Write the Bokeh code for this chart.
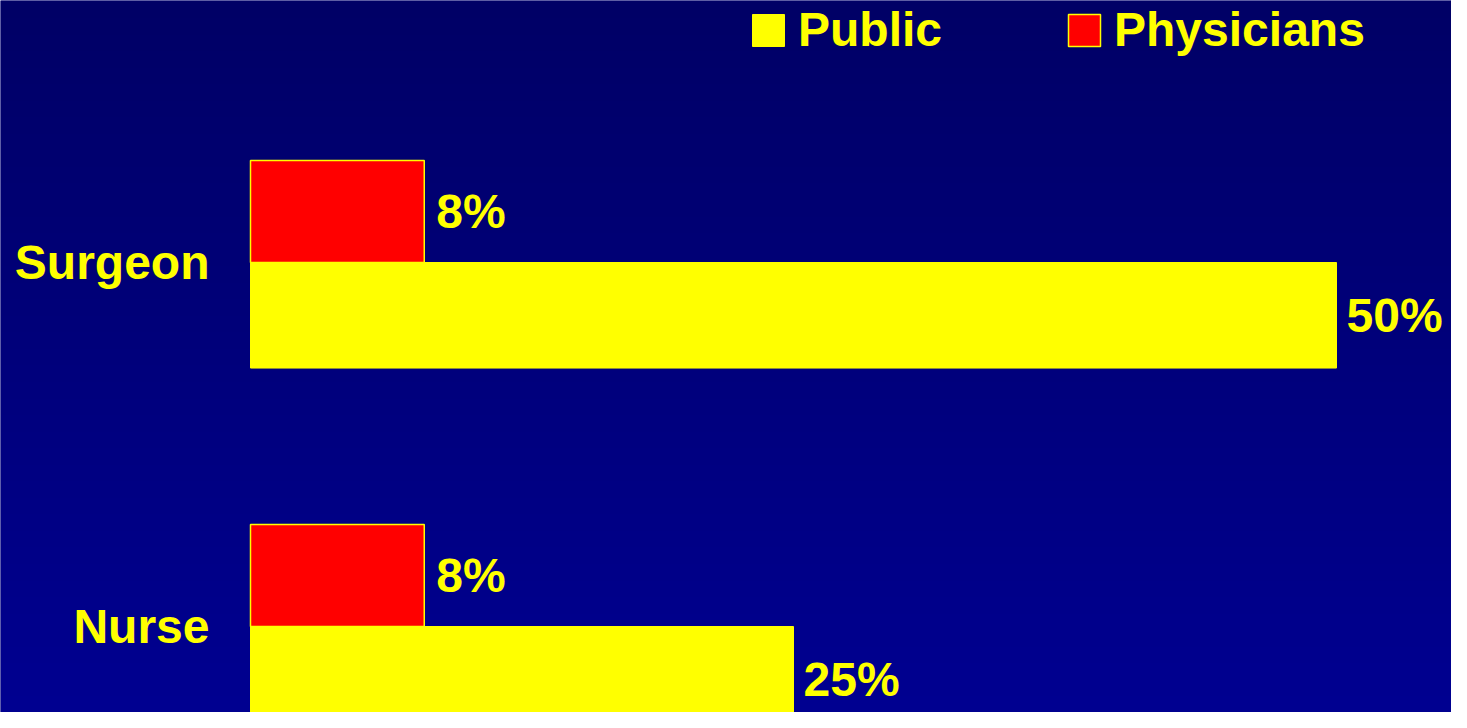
import numpy as np
from bokeh.plotting import figure
from bokeh.models import Range1d, Legend, LegendItem, ColumnDataSource
from bokeh.core.properties import value
from bokeh.embed import file_html
from bokeh.resources import INLINE

# ---- data ----
categories = ["Surgeon", "Nurse"]
public = [50, 25]
physicians = [8, 8]
series_names = ["Public", "Physicians"]

YELLOW = "#FFFF00"
RED = "#FF0000"
FONT = "Liberation Sans"

W, H = 1451, 712
px_per_pct = 21.72
bar_left_px = 250
group_px = 364.0
first_center_px = 262.0

x_start = -bar_left_px / px_per_pct
x_end = (W - bar_left_px) / px_per_pct
n = len(categories)
ypos = [n - 1 - i for i in range(n)]
y_end = (n - 1) + first_center_px / group_px
y_start = y_end - H / group_px

p = figure(width=W, height=H, output_backend="svg", toolbar_location=None,
           x_range=Range1d(x_start, x_end), y_range=Range1d(y_start, y_end),
           x_axis_type=None, y_axis_type=None, min_border=0,
           outline_line_color=None, border_fill_color="#000066",
           background_fill_color="#000077")
p.grid.visible = False

# vertical gradient background
rows = H
img = np.empty((rows, 2), dtype=np.uint32)
view = img.view(dtype=np.uint8).reshape((rows, 2, 4))
page_y = (rows - 1 - np.arange(rows))  # row 0 is bottom
blue = (102 + (146 - 102) * page_y / 728.0).astype(np.uint8)
view[:, :, 0] = 0
view[:, :, 1] = 0
view[:, :, 2] = blue[:, None]
view[:, :, 3] = 255
p.image_rgba(image=[img], x=x_start, y=y_start, dw=x_end - x_start, dh=y_end - y_start)

h_phys = 0.28
h_pub = 0.29
src = ColumnDataSource(dict(
    cat=categories,
    y=ypos,
    public=public,
    physicians=physicians,
    y_phys=[y + h_phys / 2 for y in ypos],
    y_pub=[y - h_pub / 2 for y in ypos],
    zero=[0] * n,
    pub_lbl=[f"{v}%" for v in public],
    phys_lbl=[f"{v}%" for v in physicians],
))

r_pub = p.hbar(y="y_pub", left=0, right="public", height=h_pub, source=src,
               fill_color=YELLOW, line_color=YELLOW, line_width=1)
r_phys = p.hbar(y="y_phys", left=0, right="physicians", height=h_phys, source=src,
                fill_color=RED, line_color=YELLOW, line_width=1.5)

common = dict(text_font=value(FONT), text_font_style="bold", text_font_size="48px",
              text_color=YELLOW, text_baseline="middle")
p.text(x="public", y="y_pub", text="pub_lbl", x_offset=10, text_align="left", source=src, **common)
p.text(x="physicians", y="y_phys", text="phys_lbl", x_offset=12, text_align="left", source=src, **common)
p.text(x="zero", y="y", text="cat", x_offset=-41, text_align="right", source=src, **common)

legend = Legend(items=[LegendItem(label=series_names[0], renderers=[r_pub]),
                       LegendItem(label=series_names[1], renderers=[r_phys])],
                orientation="horizontal", location=(748, H - 57),
                glyph_width=40, glyph_height=40, label_standoff=10, spacing=122,
                padding=0, margin=0, border_line_color=None,
                background_fill_alpha=0,
                label_text_font=FONT, label_text_font_style="bold",
                label_text_font_size="48px", label_text_color=YELLOW)
p.add_layout(legend, "center")

open("out.html", "w").write(file_html(p, INLINE))
